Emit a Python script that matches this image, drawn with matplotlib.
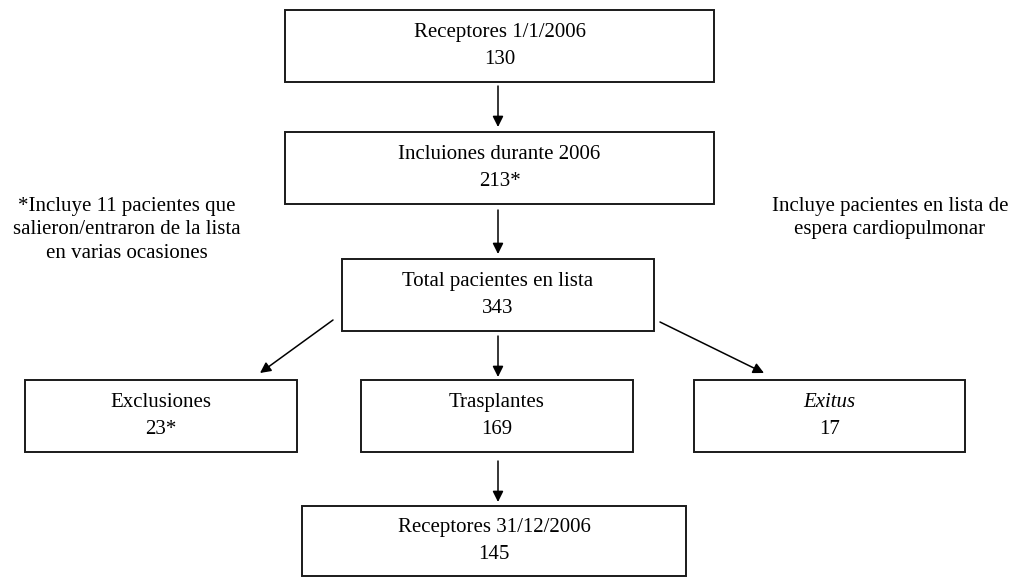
import matplotlib
matplotlib.use("Agg")
import matplotlib.pyplot as plt
from matplotlib.patches import Rectangle

# ---- data ----
box_titles = ["Receptores 1/1/2006", "Incluiones durante 2006", "Total pacientes en lista",
              "Exclusiones", "Trasplantes", "Exitus", "Receptores 31/12/2006"]
box_values = ["130", "213*", "343", "23*", "169", "17", "145"]
title_italic = [False, False, False, False, False, True, False]
note_left = ["*Incluye 11 pacientes que", "salieron/entraron de la lista", "en varias ocasiones"]
note_right = ["Incluye pacientes en lista de", "espera cardiopulmonar"]

# ---- layout (pixel coordinates, y downward) ----
boxes = [  # x0, y0, x1, y1
    (285, 10, 714, 82),
    (285, 132, 714, 204),
    (342, 259, 654, 331),
    (25, 380, 297, 452),
    (361, 380, 633, 452),
    (694, 380, 965, 452),
    (302, 506, 686, 576),
]
arrows = [  # (x_start, y_start) -> (x_end, y_end)
    ((498, 86), (498, 127)),
    ((498, 210), (498, 254)),
    ((333, 320), (260, 373)),
    ((498, 336), (498, 377)),
    ((660, 322), (764, 373)),
    ((498, 461), (498, 502)),
]

FONT = "Liberation Serif"
FS = 15

fig = plt.figure(figsize=(10.23, 5.77), dpi=100)
ax = fig.add_axes([0, 0, 1, 1])
ax.set_xlim(0, 1023)
ax.set_ylim(577, 0)
ax.axis("off")

for (x0, y0, x1, y1), t, v, it in zip(boxes, box_titles, box_values, title_italic):
    ax.add_patch(Rectangle((x0, y0), x1 - x0, y1 - y0, fill=False,
                           edgecolor="#1a1a1a", lw=1.4))
    cx = (x0 + x1) / 2
    cy = (y0 + y1) / 2
    ax.text(cx, cy - 13.5, t, ha="center", va="center", fontsize=FS,
            family=FONT, style="italic" if it else "normal")
    ax.text(cx, cy + 13.5, v, ha="center", va="center", fontsize=FS, family=FONT)

for (xs, ys), (xe, ye) in arrows:
    ax.annotate("", xy=(xe, ye), xytext=(xs, ys),
                arrowprops=dict(arrowstyle="-|>", color="black", lw=1.1,
                                mutation_scale=16, shrinkA=0, shrinkB=0))

for i, line in enumerate(note_left):
    ax.text(127, 206 + i * 23.5, line, ha="center", va="center", fontsize=FS, family=FONT)
for i, line in enumerate(note_right):
    ax.text(890, 206 + i * 23.5, line, ha="center", va="center", fontsize=FS, family=FONT)

fig.savefig("out.png", dpi=100)
